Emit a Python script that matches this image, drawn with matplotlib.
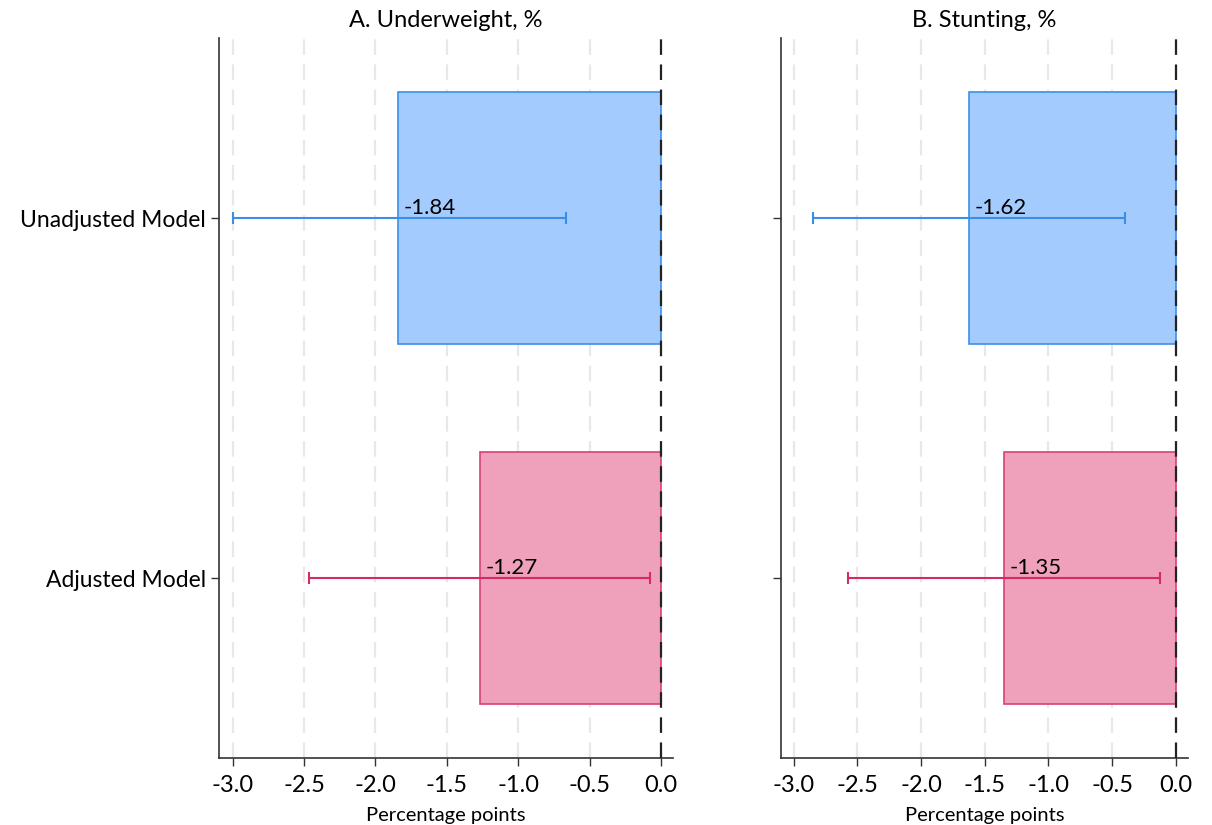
import matplotlib.pyplot as plt

plt.rcParams['font.family'] = ['Lato', 'DejaVu Sans']

# Data
models = ['Adjusted Model', 'Unadjusted Model']
panels = ['A. Underweight, %', 'B. Stunting, %']
estimates = [[-1.27, -1.84], [-1.35, -1.62]]
ci_low = [[-2.465, -3.00], [-2.576, -2.846]]
ci_high = [[-0.075, -0.667], [-0.124, -0.394]]
xticks = [-3.0, -2.5, -2.0, -1.5, -1.0, -0.5, 0.0]
xlims = [(-3.095, 0.084), (-3.10, 0.097)]

fill_colors = ['#EFA1BC', '#A4CBFD']
edge_colors = ['#D8407A', '#3C8FE8']
err_colors = ['#D42A68', '#3A8EE6']

fig = plt.figure(figsize=(12.12, 8.25), dpi=100)
axes = [fig.add_axes([0.1807, 0.0812, 0.3746, 0.8727]),
        fig.add_axes([0.6444, 0.0812, 0.3358, 0.8727])]

for p, ax in enumerate(axes):
    ypos = list(range(len(models)))
    for i in ypos:
        est = estimates[p][i]
        ax.barh(i, est, height=0.7, color=fill_colors[i], edgecolor=edge_colors[i],
                linewidth=1.2, zorder=2)
        lo, hi = ci_low[p][i], ci_high[p][i]
        ax.errorbar(est, i, xerr=[[est - lo], [hi - est]], fmt='none',
                    ecolor=err_colors[i], elinewidth=1.5, capsize=4, capthick=1.5, zorder=3)
        ax.annotate(f'{est:.2f}', xy=(est, i), xytext=(4, 0), textcoords='offset points',
                    ha='left', va='bottom', fontsize=16, color='black', zorder=4)

    # grid and zero line
    for t in xticks[:-1]:
        ax.axvline(t, color='#E8E8E8', linewidth=1.6, dashes=(7, 4.3), zorder=0)
    ax.axvline(0, color='#222222', linewidth=1.6, dashes=(7, 4.3), zorder=5)

    ax.set_xlim(*xlims[p])
    ax.set_ylim(-0.5, 1.5)
    ax.set_xticks(xticks)
    ax.set_xticklabels([f'{t:.1f}' for t in xticks], fontsize=17)
    ax.set_yticks(ypos)
    if p == 0:
        ax.set_yticklabels(models, fontsize=16.5)
    else:
        ax.set_yticklabels([])
    ax.tick_params(axis='both', direction='out', length=6, width=1, color='#333333')
    ax.tick_params(axis='x', pad=6)
    ax.set_xlabel('Percentage points', fontsize=14.5, labelpad=8)
    ax.set_title(panels[p], fontsize=17, pad=8)
    for s in ['top', 'right']:
        ax.spines[s].set_visible(False)
    for s in ['left', 'bottom']:
        ax.spines[s].set_color('#333333')
        ax.spines[s].set_linewidth(1.2)

fig.savefig('out.png', dpi=100, facecolor='white')
